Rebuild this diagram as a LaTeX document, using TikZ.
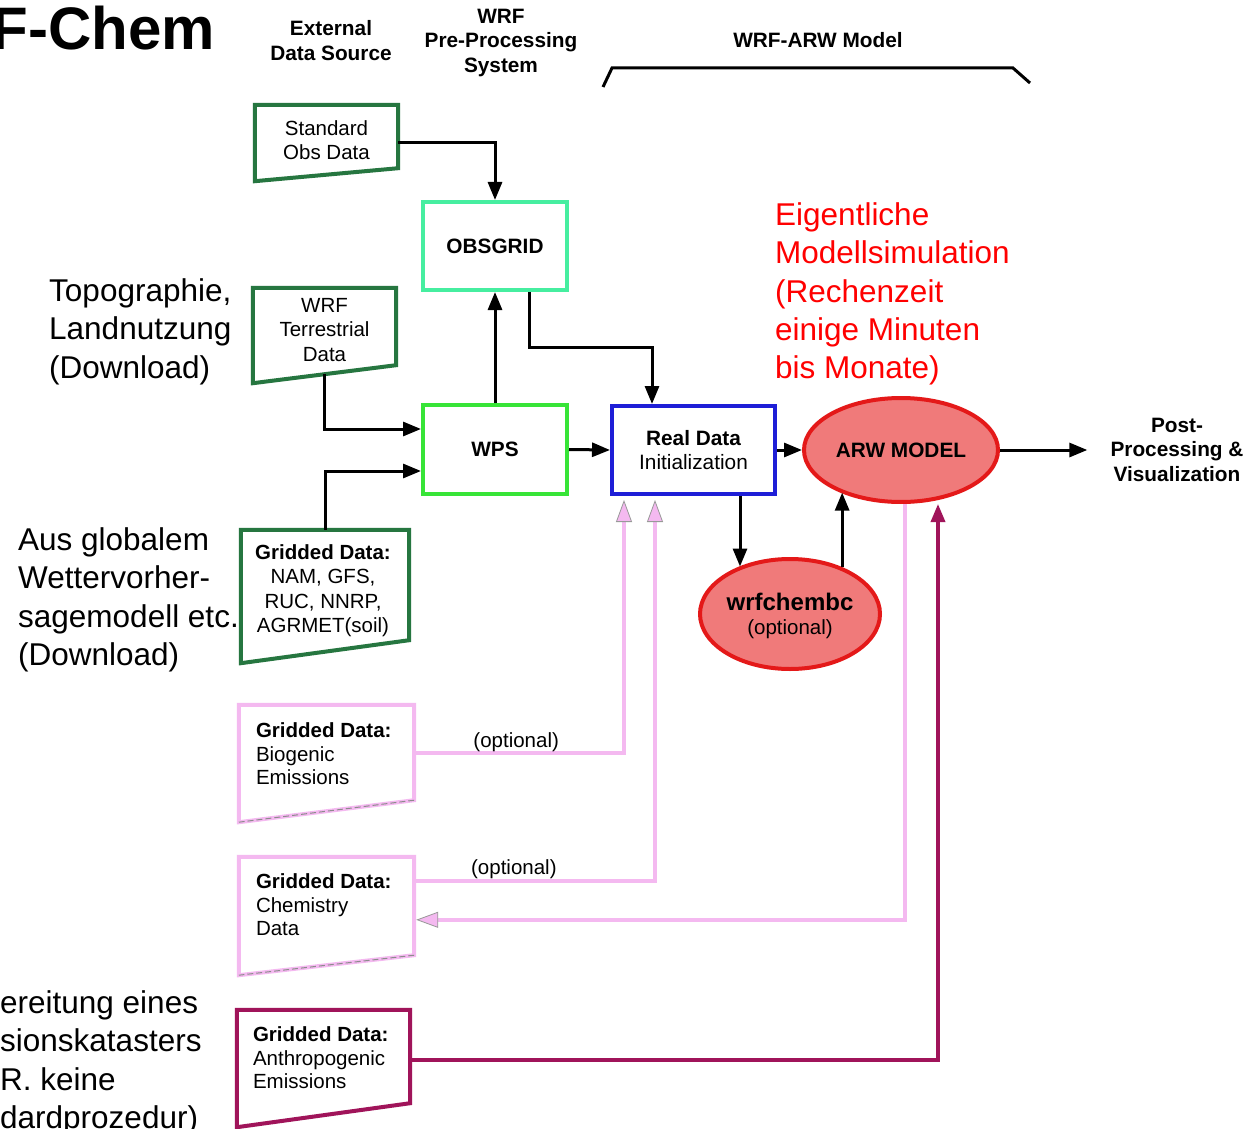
\documentclass[tikz,border=0pt]{standalone}
\usepackage{fontspec}
\setmainfont{Liberation Sans}
\usetikzlibrary{arrows.meta,shapes.geometric,calc}
\definecolor{dgreen}{RGB}{38,118,64}
\definecolor{mint}{RGB}{70,238,160}
\definecolor{wgreen}{RGB}{55,228,55}
\definecolor{rblue}{RGB}{30,30,215}
\definecolor{efill}{RGB}{240,122,122}
\definecolor{ered}{RGB}{228,25,25}
\definecolor{pinkc}{RGB}{244,185,240}
\definecolor{magc}{RGB}{160,20,90}
\definecolor{annred}{RGB}{255,0,0}
\newcommand\drawtrap[3]{\draw[#1] (#2.north west) -- (#2.north east) -- ([yshift=#3]#2.south east) -- (#2.south west) -- cycle;}
\tikzset{
  boxtxt/.style={font=\fontsize{20.5}{24.5}\selectfont, align=center, inner sep=0pt},
  boldtxt/.style={font=\fontsize{20.8}{24.5}\selectfont\bfseries, align=center, inner sep=0pt},
  ltxt/.style={font=\fontsize{20.5}{23.8}\selectfont, align=left, inner sep=0pt, anchor=north west},
  geo/.style={rectangle, inner sep=0pt},
  rbox/.style={rectangle, draw, line width=4pt, boldtxt},
  ell/.style={ellipse, draw=ered, fill=efill, line width=4pt, inner sep=0pt, boldtxt},
  anno/.style={font=\fontsize{31.5}{38.2}\selectfont, align=left, inner sep=0pt, anchor=north west},
  arr/.style={line width=3pt, -{Triangle[length=18pt,width=14pt]}},
  pinkarr/.style={draw=pinkc, line width=4pt, -{Triangle[length=22pt,width=16pt,fill=pinkc,color=black!40,line width=0.8pt]}},
  magarr/.style={draw=magc, line width=3.5pt, -{Triangle[length=18pt,width=14pt]}},
  greenbox/.style={draw=dgreen, line width=4pt},
  pinkbox/.style={draw=pinkc, line width=4pt},
  magbox/.style={draw=magc, line width=4pt},
  dashover/.style={draw=black!45, line width=1pt, dash pattern=on 6pt off 3pt},
  optlab/.style={boxtxt, anchor=south}
}
\begin{document}
\begin{tikzpicture}[x=1pt,y=-1pt]
\useasboundingbox[fill=white] (0,0) rectangle (1259,1129);

% title and headers
\node[font=\fontsize{60}{72}\selectfont\bfseries, anchor=base east, inner sep=0pt] (title) at (215,50) {F-Chem};
\node[boldtxt, anchor=north] (h1) at (331,20.6) {External\\Data Source};
\node[boldtxt, anchor=north] (h2) at (501,8.6) {WRF\\Pre-Processing\\System};
\node[boldtxt, anchor=base] (h3) at (818,47.5) {WRF-ARW Model};
\draw[line width=3pt] (603,87) -- (612,68) -- (1013,68) -- (1030,83);

% trapezoid data sources
\node[geo, minimum width=143pt, minimum height=76pt] (sod) at (326.5,143) {};
\drawtrap{greenbox}{sod}{13pt}
\node[boxtxt] (sodt) at ([yshift=3pt]sod.center) {Standard\\Obs Data};

\node[geo, minimum width=143pt, minimum height=95pt] (terr) at (324.5,335.5) {};
\drawtrap{greenbox}{terr}{18pt}
\node[boxtxt] (terrt) at ([yshift=5.5pt]terr.center) {WRF\\Terrestrial\\Data};

\node[geo, minimum width=168pt, minimum height=133pt] (grid) at (325,596.5) {};
\drawtrap{greenbox}{grid}{23pt}
\node[boxtxt] (gridt) at ([xshift=-2pt,yshift=6pt]grid.center) {\textbf{Gridded Data:}\\NAM, GFS,\\RUC, NNRP,\\AGRMET(soil)};

\node[geo, minimum width=175pt, minimum height=117pt] (bio) at (326.5,763.5) {};
\drawtrap{pinkbox}{bio}{22pt}
\draw[dashover] ([yshift=22pt]bio.south east) -- (bio.south west);
\node[ltxt] (biot) at ([xshift=17pt,yshift=-17.5pt]bio.north west) {\textbf{Gridded Data:}\\Biogenic\\Emissions};

\node[geo, minimum width=175pt, minimum height=118pt] (chem) at (326.5,916) {};
\drawtrap{pinkbox}{chem}{20pt}
\draw[dashover] ([yshift=20pt]chem.south east) -- (chem.south west);
\node[ltxt] (chemt) at ([xshift=17pt,yshift=-16.5pt]chem.north west) {\textbf{Gridded Data:}\\Chemistry\\Data};

\node[geo, minimum width=173pt, minimum height=117pt] (anth) at (323.5,1068.5) {};
\drawtrap{magbox}{anth}{24pt}
\node[ltxt] (antht) at ([xshift=16pt,yshift=-16.5pt]anth.north west) {\textbf{Gridded Data:}\\Anthropogenic\\Emissions};

% processing boxes
\node[rbox, draw=mint, minimum width=144pt, minimum height=88pt] (obsgrid) at (495,246) {OBSGRID};
\node[rbox, draw=wgreen, minimum width=144pt, minimum height=89pt] (wps) at (495,449.5) {WPS};
\node[rbox, draw=rblue, minimum width=163pt, minimum height=88pt] (rdi) at (693.5,450) {Real Data\\\mdseries Initialization};
\node[ell, minimum width=194pt, minimum height=104pt] (arw) at (901,450) {ARW MODEL};
\node[ell, minimum width=180pt, minimum height=110pt] (wchem) at (790,614) {};
\node[boldtxt] (wchemt) at ([yshift=-2pt]wchem.center) {{\fontsize{24}{25}\selectfont wrfchembc}\\[-1pt]\mdseries\fontsize{20.5}{24.5}\selectfont (optional)};
\node[boldtxt, anchor=north] (post) at (1177,417.5) {Post-\\Processing \&\\Visualization};

% annotations
\node[anno] (topo) at (49,278.6) {Topographie,\\Landnutzung\\(Download)};
\node[anno] (glob) at (18,527.6) {Aus globalem\\Wettervorher-\\sagemodell etc.\\(Download)};
\node[anno] (kat) at (0,990.6) {ereitung eines\\sionskatasters\\R. keine\\dardprozedur)};
\node[anno, text=annred] (sim) at (775,202.6) {Eigentliche\\Modellsimulation\\(Rechenzeit\\einige Minuten\\bis Monate)};

% black connectors
\draw[arr] (sod.east) -| (obsgrid.north);
\draw[arr] (wps.north) -- (obsgrid.south);
\draw[arr] ([xshift=34pt]obsgrid.south) -- ++(0,55) -| ([xshift=-41.5pt]rdi.north);
\draw[arr] ([yshift=9pt]terr.south) |- ([yshift=20.5pt]wps.west);
\draw[arr] (grid.north) |- ([yshift=-21.5pt]wps.west);
\draw[arr] (wps.east) -- (rdi.west);
\draw[arr] (rdi.east) -- (arw.west);
\coordinate (rdiS) at ([xshift=46.5pt]rdi.south);
\draw[arr] (rdiS) -- (rdiS |- wchem.137.6);
\draw[arr] (wchem.42) -- (wchem.42 |- arw.215.7);
\draw[arr, shorten >=23pt] (arw.east) -- (arw.east -| post.west);

% pink and magenta connectors
\draw[pinkarr, shorten >=4pt] ([yshift=-48pt]bio.north east) -| node[optlab, pos=0.243, yshift=-1pt] (opt1) {(optional)} ([xshift=-69.5pt]rdi.south);
\draw[pinkarr, shorten >=4pt] ([yshift=-24pt]chem.north east) -| node[optlab, pos=0.207, yshift=0pt] (opt2) {(optional)} ([xshift=-38.5pt]rdi.south);
\draw[pinkarr, shorten >=2pt] ([xshift=4pt]arw.south) |- ([yshift=-63pt]chem.north east);
\draw[magarr] ([yshift=-50pt]anth.north east) -| ([xshift=37pt]arw.south);
\end{tikzpicture}
\end{document}
